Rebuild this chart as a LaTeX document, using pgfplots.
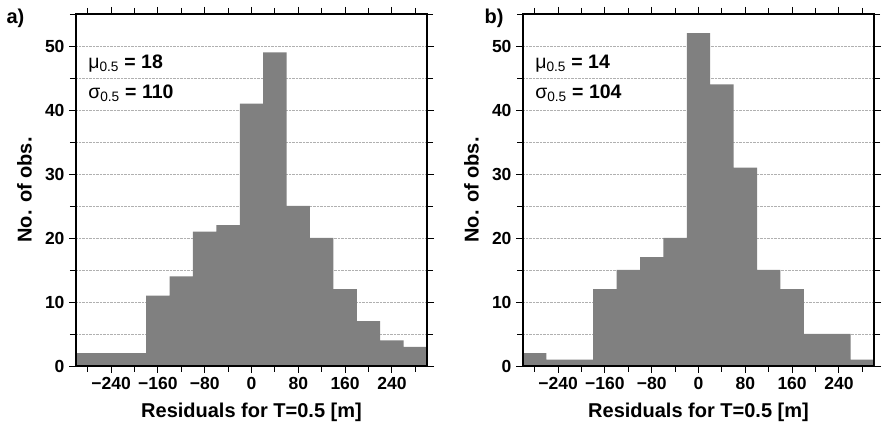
\documentclass[border=0pt]{standalone}
\usepackage{pgfplots}
\pgfplotsset{compat=1.18}
\usepackage{fontspec}
\setmainfont{Liberation Sans}
\definecolor{bargray}{HTML}{808080}
\definecolor{gridgray}{HTML}{B0B0B0}
\pgfplotsset{
  histo/.style={
    scale only axis, width=351pt, height=352pt,
    xmin=-300, xmax=300, ymin=0, ymax=55,
    xtick={-240,-160,-80,0,80,160,240},
    xticklabels={−240,−160,−80,0,80,160,240},
    minor xtick={-280,-200,-120,-40,40,120,200,280},
    ytick={0,10,20,30,40,50},
    minor ytick={5,15,25,35,45,55},
    tick align=outside,
    tick pos=both,
    major tick length=7pt, minor tick length=6pt,
    every tick/.style={black, line width=0.9pt},
    ymajorgrids, yminorgrids,
    major grid style={gridgray, densely dotted, line width=0.6pt},
    minor grid style={gridgray, densely dotted, line width=0.6pt},
    xticklabel pos=lower, yticklabel pos=left,
    ticklabel style={font=\fontsize{17.5}{19}\selectfont\bfseries},
    xticklabel style={yshift=-1pt},
    yticklabel style={xshift=-1pt},
    /pgf/number format/assume math mode=true,
    xlabel={Residuals for T=0.5 [m]},
    ylabel={No. of obs.},
    label style={font=\fontsize{20}{22}\selectfont\bfseries},
    xlabel style={at={(axis description cs:0.5,-0.131)}, anchor=center},
    ylabel style={at={(axis description cs:-0.147,0.5)}, anchor=center},
    axis line style={line width=1.6pt},
  }
}
\begin{document}
\begin{tikzpicture}
\useasboundingbox (0,0) rectangle (883pt,427pt);
\begin{axis}[histo, at={(76pt,61pt)}, anchor=south west]
\addplot[ybar interval, fill=bargray, draw=none] coordinates {
(-300,2) (-260,2) (-220,2) (-180,11) (-140,14) (-100,21) (-60,22) (-20,41) (20,49) (60,25) (100,20) (140,12) (180,7) (220,4) (260,3) (300,3)};
\draw[line width=1.6pt] (rel axis cs:0,0) rectangle (rel axis cs:1,1);
\node[anchor=west, font=\fontsize{19.5}{21}\selectfont] at (axis cs:-285,47.3) {μ\textsubscript{0.5} \textbf{= 18}};
\node[anchor=west, font=\fontsize{19.5}{21}\selectfont] at (axis cs:-285,42.6) {σ\textsubscript{0.5} \textbf{= 110}};
\end{axis}
\begin{axis}[histo, at={(523pt,61pt)}, anchor=south west]
\addplot[ybar interval, fill=bargray, draw=none] coordinates {
(-300,2) (-260,1) (-220,1) (-180,12) (-140,15) (-100,17) (-60,20) (-20,52) (20,44) (60,31) (100,15) (140,12) (180,5) (220,5) (260,1) (300,1)};
\draw[line width=1.6pt] (rel axis cs:0,0) rectangle (rel axis cs:1,1);
\node[anchor=west, font=\fontsize{19.5}{21}\selectfont] at (axis cs:-285,47.3) {μ\textsubscript{0.5} \textbf{= 14}};
\node[anchor=west, font=\fontsize{19.5}{21}\selectfont] at (axis cs:-285,42.6) {σ\textsubscript{0.5} \textbf{= 104}};
\end{axis}
\node[anchor=west, font=\fontsize{20}{22}\selectfont\bfseries] at (3pt,409pt) {a)};
\node[anchor=west, font=\fontsize{20}{22}\selectfont\bfseries] at (481pt,409pt) {b)};
\end{tikzpicture}
\end{document}
